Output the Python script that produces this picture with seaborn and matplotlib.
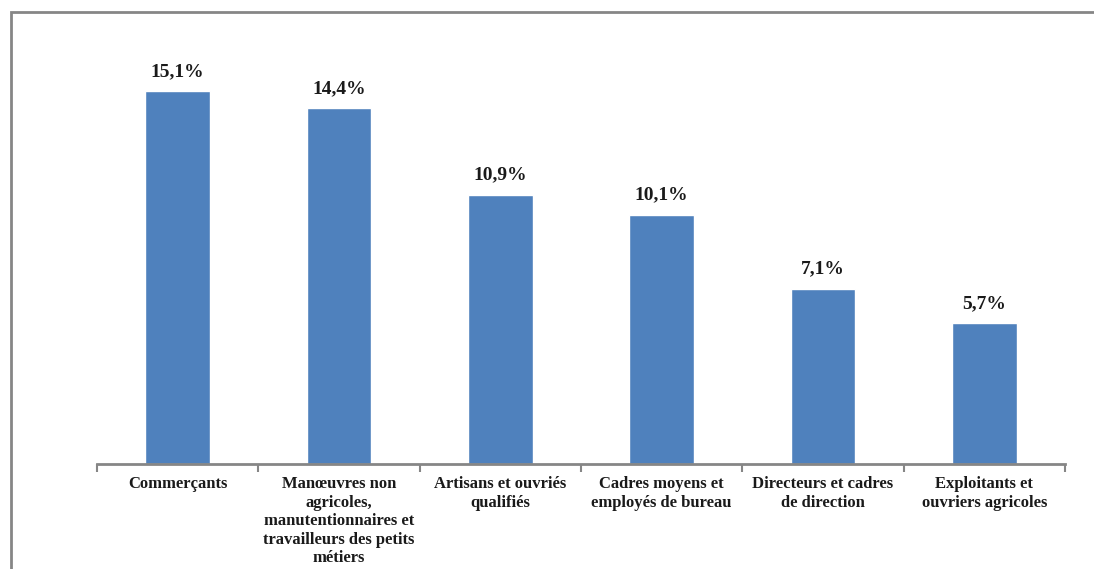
import numpy as np
import pandas as pd
import matplotlib
matplotlib.use("Agg")
import matplotlib.pyplot as plt
import seaborn as sns
from matplotlib.patches import Rectangle

categories = [
    "Commerçants",
    "Manœuvres non\nagricoles,\nmanutentionnaires et\ntravailleurs des petits\nmétiers",
    "Artisans et ouvriés\nqualifiés",
    "Cadres moyens et\nemployés de bureau",
    "Directeurs et cadres\nde direction",
    "Exploitants et\nouvriers agricoles",
]
values = [15.1, 14.4, 10.9, 10.1, 7.1, 5.7]

BAR_COLOR = "#4F81BD"
AXIS_COLOR = "#868686"

sns.set_theme(style="white")
plt.rcParams["font.family"] = ["Liberation Serif", "DejaVu Serif"]

df = pd.DataFrame({"cat": categories, "val": values})

fig = plt.figure(figsize=(10.94, 5.69), dpi=100)
ax = fig.add_axes([97 / 1094, 105 / 569, 968 / 1094, 432 / 569])

sns.barplot(data=df, x="cat", y="val", color=BAR_COLOR, width=0.4,
            saturation=1, ax=ax)

ax.set_ylim(0, 432 / 24.7)
ax.set_xlim(-0.5, len(categories) - 0.5)
ax.set_xlabel("")
ax.set_ylabel("")
ax.set_yticks([])

for side in ["top", "right", "left"]:
    ax.spines[side].set_visible(False)
ax.spines["bottom"].set_color(AXIS_COLOR)
ax.spines["bottom"].set_linewidth(2)

ax.set_xticks(range(len(categories)))
ax.set_xticklabels(categories, fontsize=12, fontweight="bold",
                   color="#1a1a1a", linespacing=1.2, va="top")
ax.tick_params(axis="x", which="major", length=0, pad=9)
ax.set_xticks(np.arange(-0.5, len(categories)), minor=True)
ax.tick_params(axis="x", which="minor", length=6, width=1.5,
               color=AXIS_COLOR, direction="out", bottom=True)

for i, v in enumerate(values):
    ax.text(i, v + 0.45, f"{v:.1f}".replace(".", ",") + "%",
            ha="center", va="bottom", fontsize=14, fontweight="bold",
            color="#1a1a1a")

fig.patches.append(Rectangle((11 / 1094, -0.1), 1.2, 0.1 + (569 - 12) / 569,
                             transform=fig.transFigure, fill=False,
                             edgecolor=AXIS_COLOR, linewidth=2))

fig.savefig("out.png", dpi=100)
